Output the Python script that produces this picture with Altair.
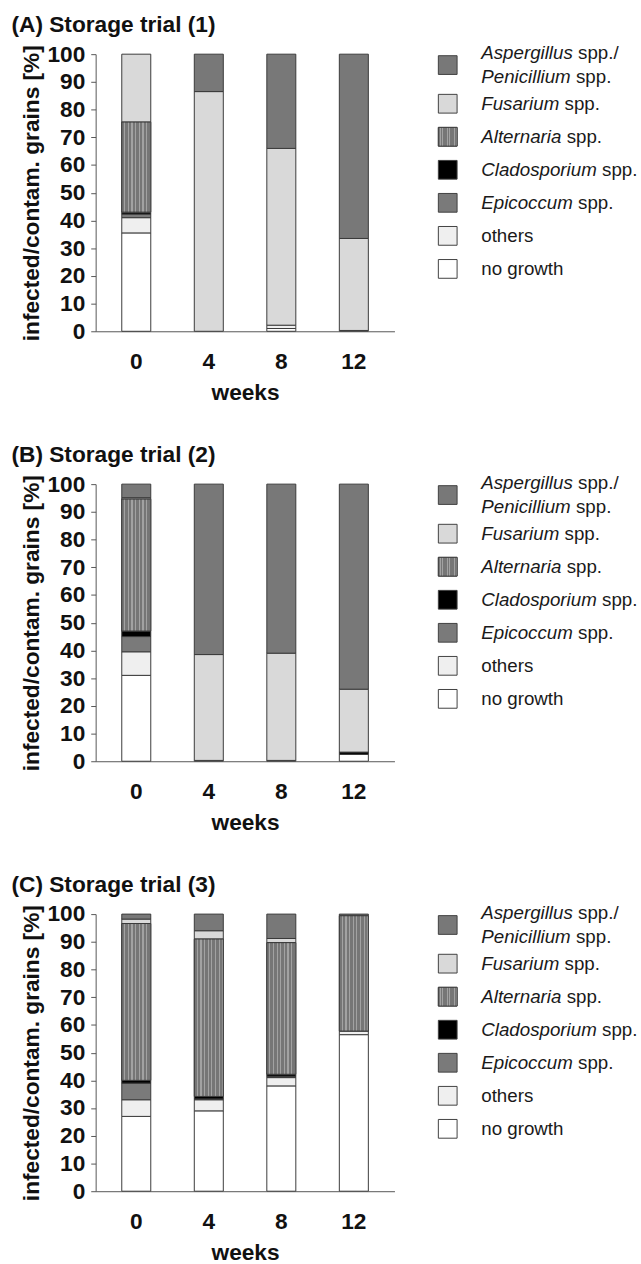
import altair as alt
import pandas as pd

FONT = "Liberation Sans"

weeks = ["0", "4", "8", "12"]
categories = ["no growth", "others", "Epicoccum", "Cladosporium",
              "Alternaria", "Fusarium", "Aspergillus/Penicillium"]
fills = ["#ffffff", "#efefef", "#7a7a7a", "#000000",
         "#858585", "#d9d9d9", "#787878"]

# Storage trial (1): share of grains per group [%], weeks 0, 4, 8, 12
t1_no_growth = [35.5, 0.0, 1.0, 0.3]
t1_others = [5.5, 0.0, 1.2, 0.0]
t1_epicoccum = [1.3, 0.0, 0.0, 0.0]
t1_cladosporium = [0.7, 0.0, 0.0, 0.0]
t1_alternaria = [32.5, 0.0, 0.0, 0.0]
t1_fusarium = [24.5, 86.5, 63.8, 33.2]
t1_asp_pen = [0.0, 13.5, 34.0, 66.5]

# Storage trial (2)
t2_no_growth = [31.0, 0.3, 0.3, 2.5]
t2_others = [8.5, 0.0, 0.0, 0.0]
t2_epicoccum = [5.5, 0.0, 0.0, 0.0]
t2_cladosporium = [2.0, 0.0, 0.0, 0.8]
t2_alternaria = [47.6, 0.0, 0.0, 0.0]
t2_fusarium = [0.5, 38.2, 38.7, 22.7]
t2_asp_pen = [4.9, 61.5, 61.0, 74.0]

# Storage trial (3)
t3_no_growth = [27.0, 29.0, 38.0, 56.5]
t3_others = [6.0, 4.0, 3.0, 1.3]
t3_epicoccum = [6.0, 0.3, 0.5, 0.0]
t3_cladosporium = [1.0, 0.9, 0.7, 0.0]
t3_alternaria = [56.6, 56.8, 47.5, 41.6]
t3_fusarium = [1.6, 3.0, 1.5, 0.0]
t3_asp_pen = [1.8, 6.0, 8.8, 0.6]

trials = [
    ("(A) Storage trial (1)", [t1_no_growth, t1_others, t1_epicoccum, t1_cladosporium,
                               t1_alternaria, t1_fusarium, t1_asp_pen]),
    ("(B) Storage trial (2)", [t2_no_growth, t2_others, t2_epicoccum, t2_cladosporium,
                               t2_alternaria, t2_fusarium, t2_asp_pen]),
    ("(C) Storage trial (3)", [t3_no_growth, t3_others, t3_epicoccum, t3_cladosporium,
                               t3_alternaria, t3_fusarium, t3_asp_pen]),
]

# legend entries, top to bottom: (italic genus, plain suffix)
legend_lines = [
    [("Aspergillus", "spp./"), ("Penicillium", "spp.")],
    [("Fusarium", "spp.")],
    [("Alternaria", "spp.")],
    [("Cladosporium", "spp.")],
    [("Epicoccum", "spp.")],
    [("", "others")],
    [("", "no growth")],
]
legend_keys = ["Aspergillus/Penicillium", "Fusarium", "Alternaria", "Cladosporium",
               "Epicoccum", "others", "no growth"]
legend_slots = [0, 1.17, 2.17, 3.17, 4.17, 5.17, 6.17]

# Arial-compatible advance widths (per 1000 em) for placing the plain suffix
ADV = {'A': 667, 's': 500, 'p': 556, 'e': 556, 'r': 333, 'g': 556, 'i': 222, 'l': 222,
       'u': 556, 'P': 667, 'n': 556, 'c': 500, 'm': 833, 'F': 611, 'a': 556, 't': 278,
       'C': 722, 'd': 556, 'o': 556, 'E': 667, 'h': 556, 'w': 722, '.': 278, '/': 278,
       ' ': 278}
LEG_FS = 19
AX_FS = 23


def text_width(s, size):
    return sum(ADV.get(ch, 556) for ch in s) * size / 1000.0


# vertical hatching of the Alternaria fill
n_stripes = 8
stops = []
for k in range(n_stripes):
    a = k / n_stripes
    b = (k + 0.68) / n_stripes
    c = (k + 1) / n_stripes
    stops += [{"offset": a, "color": "#767676"}, {"offset": b, "color": "#767676"},
              {"offset": b, "color": "#a2a2a2"}, {"offset": c, "color": "#a2a2a2"}]
HATCH = {"gradient": "linear", "x1": 0, "y1": 0, "x2": 1, "y2": 0, "stops": stops}

color_scale = alt.Scale(domain=categories, range=fills)
PLOT_W, PLOT_H = 303, 281
LEG_W = 230
LEG_SPAN = 8.269 * PLOT_H / 277.0


def bar_panel(values):
    rows = []
    for ci, (cat, vals) in enumerate(zip(categories, values)):
        for w, v in zip(weeks, vals):
            rows.append({"week": w, "category": cat, "order": ci, "value": v})
    df = pd.DataFrame(rows)
    base = alt.Chart(df).transform_stack(
        stack="value", groupby=["week"], as_=["y0", "y1"],
        sort=[alt.SortField("order", order="ascending")]
    ).transform_filter(alt.datum.value > 0)

    x = alt.X("week:N", sort=weeks,
              scale=alt.Scale(paddingInner=0.6, paddingOuter=0.36),
              axis=alt.Axis(title="weeks", labelAngle=0, ticks=False, labelPadding=20,
                            titlePadding=8, domainColor="#555555"))
    y = alt.Y("y0:Q", scale=alt.Scale(domain=[0, 100], nice=False),
              axis=alt.Axis(title="infected/contam. grains [%]", values=list(range(0, 101, 10)),
                            tickSize=5, labelPadding=6, titlePadding=4, grid=False,
                            domainColor="#555555", tickColor="#555555"))
    bars = base.mark_bar(stroke="#3a3a3a", strokeWidth=1).encode(
        x=x, y=y, y2="y1:Q",
        fill=alt.Fill("category:N", scale=color_scale, legend=None),
    )
    hatch = base.transform_filter(alt.datum.category == "Alternaria").mark_bar(
        fill=HATCH, stroke="#3a3a3a", strokeWidth=1
    ).encode(x=x, y=y, y2="y1:Q")
    return alt.layer(bars, hatch).properties(width=PLOT_W, height=PLOT_H)


def legend_panel():
    sq_rows, txt_rows = [], []
    step = 0.36
    for key, slot, lines in zip(legend_keys, legend_slots, legend_lines):
        sq_rows.append({"category": key, "slot": slot})
        n = len(lines)
        for li, (genus, suffix) in enumerate(lines):
            ypos = slot + (li - (n - 1) / 2) * 2 * step if n > 1 else slot
            x0 = 68.0
            if genus:
                txt_rows.append({"text": genus, "x": x0, "slot": ypos, "style": "italic"})
                x0 += text_width(genus + " ", LEG_FS)
            txt_rows.append({"text": suffix, "x": x0, "slot": ypos, "style": "normal"})
    sq = pd.DataFrame(sq_rows)
    tx = pd.DataFrame(txt_rows)
    yscale = alt.Scale(domain=[-0.33, -0.33 + LEG_SPAN], reverse=True, nice=False, zero=False)
    xscale = alt.Scale(domain=[0, LEG_W], nice=False, zero=True)

    squares = alt.Chart(sq).mark_square(size=361, opacity=1, stroke="#404040",
                                        strokeWidth=1).encode(
        x=alt.value(34),
        y=alt.Y("slot:Q", scale=yscale, axis=None),
        fill=alt.Fill("category:N", scale=color_scale, legend=None),
    )
    hatch_sq = alt.Chart(sq).transform_filter(alt.datum.category == "Alternaria").mark_square(
        size=361, opacity=1, fill=HATCH, stroke="#404040", strokeWidth=1
    ).encode(x=alt.value(34), y=alt.Y("slot:Q", scale=yscale, axis=None))

    def text_layer(style):
        return alt.Chart(tx).transform_filter(alt.datum.style == style).mark_text(
            align="left", baseline="middle", fontSize=LEG_FS, font=FONT,
            fontStyle=style, color="#1a1a1a"
        ).encode(
            x=alt.X("x:Q", scale=xscale, axis=None),
            y=alt.Y("slot:Q", scale=yscale, axis=None),
            text="text:N",
        )

    return alt.layer(squares, hatch_sq, text_layer("italic"), text_layer("normal")).properties(
        width=LEG_W, height=PLOT_H)


rows = []
for title, values in trials:
    row = alt.hconcat(bar_panel(values), legend_panel(), spacing=20).properties(
        title=alt.TitleParams(text=title, anchor="start", fontSize=AX_FS, fontWeight="bold",
                              font=FONT, color="#111111", offset=6, dx=-9)
    )
    rows.append(row)

chart = alt.vconcat(*rows, spacing=41).properties(
    padding={"left": 11, "top": 6, "right": 0, "bottom": 0}
).configure_view(stroke=None).configure_axis(
    labelFont=FONT, titleFont=FONT, labelFontSize=AX_FS, titleFontSize=AX_FS,
    labelFontWeight="bold", titleFontWeight="bold", labelColor="#111111",
    titleColor="#111111"
)

chart.save("out.html", embed_options={"renderer": "svg", "actions": False})
